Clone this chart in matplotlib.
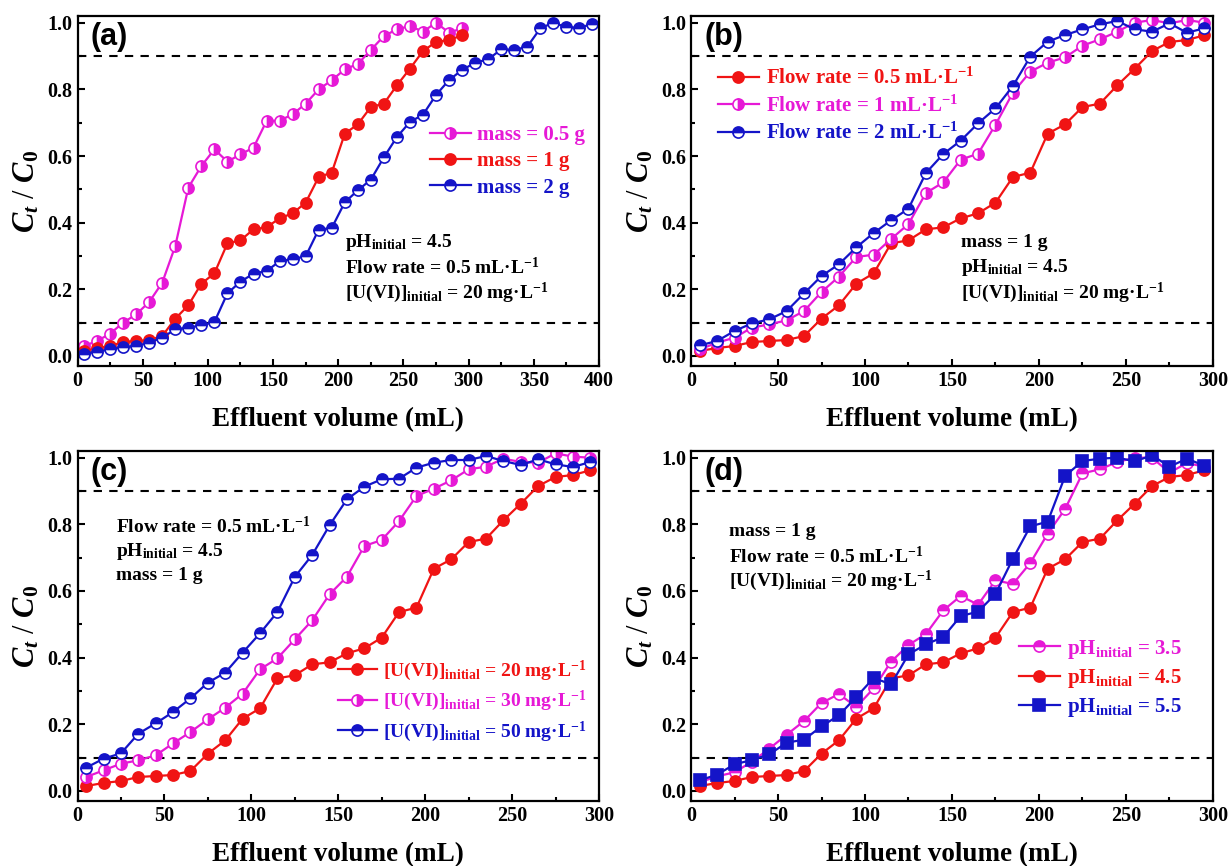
import matplotlib
matplotlib.use("Agg")
import matplotlib.pyplot as plt
from matplotlib.ticker import MultipleLocator, FormatStrFormatter

plt.rcParams['font.family'] = ['Liberation Serif', 'DejaVu Serif']
plt.rcParams['font.weight'] = 'bold'
plt.rcParams['mathtext.fontset'] = 'custom'
plt.rcParams['mathtext.rm'] = 'Liberation Serif:bold'
plt.rcParams['mathtext.it'] = 'Liberation Serif:italic:bold'
plt.rcParams['mathtext.bf'] = 'Liberation Serif:bold'

# Volumen de efluente (mL)
vol = [5, 15, 25, 35, 45, 55, 65, 75, 85, 95, 105, 115, 125, 135, 145,
       155, 165, 175, 185, 195, 205, 215, 225, 235, 245, 255, 265, 275, 285, 295]
vol_long = vol + [305, 315, 325, 335, 345, 355, 365, 375, 385, 395]

# Condicion de referencia: mass = 1 g, pH 4.5, 0.5 mL/L, 20 mg/L
ref = [0.015, 0.024, 0.030, 0.042, 0.045, 0.048, 0.060, 0.112, 0.152, 0.217,
       0.248, 0.338, 0.347, 0.380, 0.386, 0.413, 0.428, 0.460, 0.537, 0.550,
       0.667, 0.695, 0.747, 0.757, 0.812, 0.862, 0.915, 0.942, 0.948, 0.962]

# (a) masa de adsorbente
mass_05 = [0.030, 0.045, 0.067, 0.100, 0.125, 0.162, 0.220, 0.330, 0.505, 0.570,
           0.620, 0.583, 0.605, 0.625, 0.705, 0.706, 0.725, 0.757, 0.800, 0.827,
           0.860, 0.876, 0.918, 0.960, 0.980, 0.990, 0.973, 1.000, 0.970, 0.983]
mass_2 = [0.007, 0.013, 0.020, 0.027, 0.030, 0.040, 0.055, 0.080, 0.085, 0.092,
          0.102, 0.188, 0.223, 0.247, 0.255, 0.284, 0.291, 0.299, 0.379, 0.384,
          0.461, 0.497, 0.529, 0.596, 0.657, 0.702, 0.724, 0.783, 0.828, 0.858,
          0.880, 0.890, 0.920, 0.918, 0.928, 0.983, 1.000, 0.986, 0.985, 0.996]

# (b) caudal
flow_1 = [0.020, 0.040, 0.055, 0.085, 0.095, 0.107, 0.135, 0.192, 0.238, 0.297,
          0.304, 0.351, 0.396, 0.489, 0.521, 0.589, 0.607, 0.694, 0.790, 0.853,
          0.880, 0.896, 0.931, 0.950, 0.973, 1.000, 1.008, 0.998, 1.008, 1.000]
flow_2 = [0.032, 0.045, 0.075, 0.098, 0.110, 0.135, 0.188, 0.240, 0.275, 0.326,
          0.369, 0.407, 0.442, 0.549, 0.606, 0.646, 0.698, 0.743, 0.810, 0.898,
          0.943, 0.963, 0.980, 0.995, 1.005, 0.980, 0.973, 0.998, 0.970, 0.983]

# (c) concentracion inicial de U(VI)
u_30 = [0.042, 0.062, 0.082, 0.092, 0.107, 0.143, 0.177, 0.215, 0.250, 0.292,
        0.365, 0.398, 0.455, 0.512, 0.590, 0.643, 0.735, 0.753, 0.810, 0.885,
        0.907, 0.932, 0.965, 0.973, 0.997, 0.987, 0.985, 1.013, 1.003, 1.000]
u_50 = [0.070, 0.097, 0.113, 0.172, 0.203, 0.237, 0.278, 0.325, 0.355, 0.415,
        0.473, 0.537, 0.642, 0.708, 0.797, 0.875, 0.913, 0.935, 0.937, 0.970,
        0.985, 0.993, 0.993, 1.005, 0.990, 0.978, 0.995, 0.980, 0.972, 0.987]

# (d) pH inicial
ph_35 = [0.026, 0.044, 0.056, 0.088, 0.127, 0.169, 0.210, 0.264, 0.291, 0.252,
         0.308, 0.388, 0.438, 0.471, 0.542, 0.585, 0.559, 0.632, 0.621, 0.684,
         0.772, 0.846, 0.953, 0.965, 0.987, 1.000, 1.000, 0.955, 0.984, 0.973]
ph_55 = [0.032, 0.049, 0.080, 0.093, 0.110, 0.145, 0.154, 0.194, 0.227, 0.282,
         0.339, 0.320, 0.410, 0.440, 0.462, 0.525, 0.538, 0.591, 0.697, 0.794,
         0.808, 0.945, 0.990, 0.997, 1.000, 0.989, 1.007, 0.973, 0.997, 0.976]

RED = '#F01414'
MAG = '#E619D6'
BLUE = '#1414C8'

FLOW = 'Flow rate = 0.5 mL·L$^{-1}$'
PH = 'pH$_{\\rm initial}$ = 4.5'
UVI = '[U(VI)]$_{\\rm initial}$ = 20 mg·L$^{-1}$'
MASS = 'mass = 1 g'

fig = plt.figure(figsize=(12.29, 8.66), dpi=100)
W, H = 1229, 866


def panel(left, top, right, bottom):
    return fig.add_axes([left / W, 1 - bottom / H, (right - left) / W, (bottom - top) / H])


def serie(ax, x, y, color, label, marker='o', fill='full'):
    ax.plot(x, y, '-', color=color, lw=1.6, marker=marker, ms=8, fillstyle=fill,
            mec=color, mfc=color, markerfacecoloralt='white', mew=1.2, label=label)


def estilo(ax, xmax, tag):
    ax.set_xlim(0, xmax)
    ax.set_ylim(-0.03, 1.02)
    ax.xaxis.set_major_locator(MultipleLocator(50))
    ax.xaxis.set_minor_locator(MultipleLocator(25))
    ax.yaxis.set_major_locator(MultipleLocator(0.2))
    ax.yaxis.set_minor_locator(MultipleLocator(0.1))
    ax.yaxis.set_major_formatter(FormatStrFormatter('%.1f'))
    ax.tick_params(which='both', direction='in', width=1.5, labelsize=14.5)
    ax.tick_params(which='major', length=5)
    ax.tick_params(which='minor', length=3)
    for sp in ax.spines.values():
        sp.set_linewidth(1.6)
    for yh in (0.9, 0.1):
        ax.axhline(yh, color='black', lw=1.5, ls=(0, (4, 3.5)), zorder=1)
    ax.set_xlabel('Effluent volume (mL)', fontsize=19.5, fontweight='bold', labelpad=12)
    ax.set_ylabel('$\\mathit{C_t}$ / $\\mathit{C_0}$', fontsize=22, labelpad=4)
    ax.text(0.025, 0.94, tag, transform=ax.transAxes, fontsize=22, fontweight='bold',
            family='Liberation Sans', va='center', ha='left')


def leyenda(ax, size=15, **kw):
    ax.legend(frameon=False, fontsize=size, handlelength=2.0, handletextpad=0.3,
              labelspacing=0.3, labelcolor='linecolor', borderaxespad=0, **kw)


def notas(ax, x, ys, lines):
    for y, t in zip(ys, lines):
        ax.text(x, y, t, fontsize=14, fontweight='bold', va='center', ha='left')


# (a)
ax = panel(77.5, 16, 599, 366)
serie(ax, vol, mass_05, MAG, 'mass = 0.5 g', fill='right')
serie(ax, vol, ref, RED, 'mass = 1 g')
serie(ax, vol_long, mass_2, BLUE, 'mass = 2 g', fill='top')
estilo(ax, 400, '(a)')
leyenda(ax, loc='center right', bbox_to_anchor=(0.99, 0.585))
notas(ax, 205, [0.34, 0.265, 0.19], [PH, FLOW, UVI])

# (b)
ax = panel(691, 16, 1213, 366)
serie(ax, vol, ref, RED, 'Flow rate = 0.5 mL·L$^{-1}$')
serie(ax, vol, flow_1, MAG, 'Flow rate = 1 mL·L$^{-1}$', fill='right')
serie(ax, vol, flow_2, BLUE, 'Flow rate = 2 mL·L$^{-1}$', fill='top')
estilo(ax, 300, '(b)')
leyenda(ax, loc='upper left', bbox_to_anchor=(0.035, 0.875))
notas(ax, 155, [0.34, 0.265, 0.19], [MASS, PH, UVI])

# (c)
ax = panel(77.5, 451, 599, 801)
serie(ax, vol, ref, RED, '[U(VI)]$_{\\rm initial}$ = 20 mg·L$^{-1}$')
serie(ax, vol, u_30, MAG, '[U(VI)]$_{\\rm initial}$ = 30 mg·L$^{-1}$', fill='right')
serie(ax, vol, u_50, BLUE, '[U(VI)]$_{\\rm initial}$ = 50 mg·L$^{-1}$', fill='top')
estilo(ax, 300, '(c)')
leyenda(ax, size=14, loc='center right', bbox_to_anchor=(0.99, 0.285))
notas(ax, 22, [0.795, 0.72, 0.645], [FLOW, PH, MASS])

# (d)
ax = panel(691, 451, 1213, 801)
serie(ax, vol, ph_35, MAG, 'pH$_{\\rm initial}$ = 3.5', fill='top')
serie(ax, vol, ref, RED, 'pH$_{\\rm initial}$ = 4.5')
serie(ax, vol, ph_55, BLUE, 'pH$_{\\rm initial}$ = 5.5', marker='s')
estilo(ax, 300, '(d)')
leyenda(ax, loc='center right', bbox_to_anchor=(0.955, 0.35))
notas(ax, 22, [0.777, 0.704, 0.63], [MASS, FLOW, UVI])

fig.savefig('out.png', dpi=100)
